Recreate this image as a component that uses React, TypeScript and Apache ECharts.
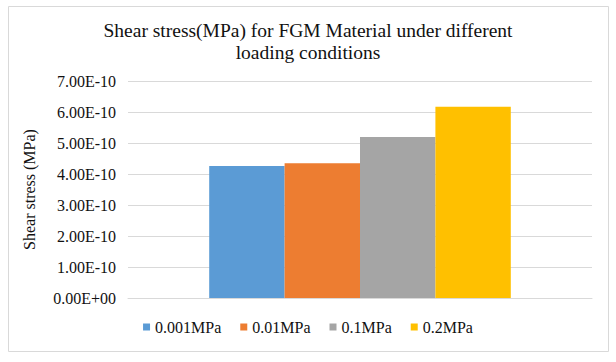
import React, { useEffect, useRef } from "react";
import * as echarts from "echarts";

const categories = [""];
const seriesNames = ["0.001MPa", "0.01MPa", "0.1MPa", "0.2MPa"];
const seriesValues = [4.26e-10, 4.35e-10, 5.19e-10, 6.17e-10];
const seriesColors = ["#5B9BD5", "#ED7D31", "#A5A5A5", "#FFC000"];
const titleText = "Shear stress(MPa) for FGM Material under different\nloading conditions";
const yAxisName = "Shear stress (MPa)";

const fmt = (v: number) => {
  if (v === 0) return "0.00E+00";
  const s = v.toExponential(2);
  const [m, e] = s.split("e");
  const sign = e[0] === "-" ? "-" : "+";
  const digits = e.replace(/[+-]/, "").padStart(2, "0");
  return `${m}E${sign}${digits}`;
};

export default function App() {
  const ref = useRef<HTMLDivElement>(null);
  useEffect(() => {
    document.body.style.margin = "0";
    const chart = echarts.init(ref.current!, null, { renderer: "svg" });
    const font = "'Liberation Serif', 'Times New Roman', serif";
    chart.setOption({
      animation: false,
      backgroundColor: "#fff",
      textStyle: { fontFamily: font },
      graphic: [
        {
          type: "rect",
          shape: { x: 8.5, y: 6.5, width: 600, height: 345 },
          style: { fill: "none", stroke: "#d9d9d9", lineWidth: 1 },
          silent: true,
        },
      ],
      title: {
        text: titleText,
        left: "center",
        top: 14,
        textStyle: {
          fontFamily: font,
          fontSize: 19.5,
          fontWeight: "normal",
          color: "#111",
          lineHeight: 22,
        },
      },
      legend: {
        bottom: 22,
        left: "center",
        itemWidth: 7,
        itemHeight: 7,
        itemGap: 19,
        icon: "rect",
        textStyle: { fontFamily: font, fontSize: 16, color: "#111" },
        data: seriesNames,
      },
      grid: { left: 128, right: 24, top: 81, bottom: 64, containLabel: false },
      xAxis: {
        type: "category",
        data: categories,
        axisLine: { lineStyle: { color: "#d9d9d9" } },
        axisTick: { show: false },
        axisLabel: { show: false },
      },
      yAxis: {
        type: "value",
        min: 0,
        max: 7e-10,
        interval: 1e-10,
        name: yAxisName,
        nameLocation: "middle",
        nameGap: 91,
        nameTextStyle: { fontFamily: font, fontSize: 16, color: "#111" },
        axisLine: { show: false },
        axisTick: { show: false },
        splitLine: { lineStyle: { color: "#d9d9d9" } },
        axisLabel: {
          formatter: (v: number) => fmt(v),
          fontFamily: font,
          fontSize: 16,
          color: "#111",
          margin: 12,
        },
      },
      series: seriesNames.map((name, i) => ({
        name,
        type: "bar",
        data: [seriesValues[i]],
        itemStyle: { color: seriesColors[i] },
        barGap: "0%",
        barCategoryGap: "35%",
      })),
    });
    return () => chart.dispose();
  }, []);
  return <div ref={ref} style={{ width: 616, height: 362 }} />;
}
